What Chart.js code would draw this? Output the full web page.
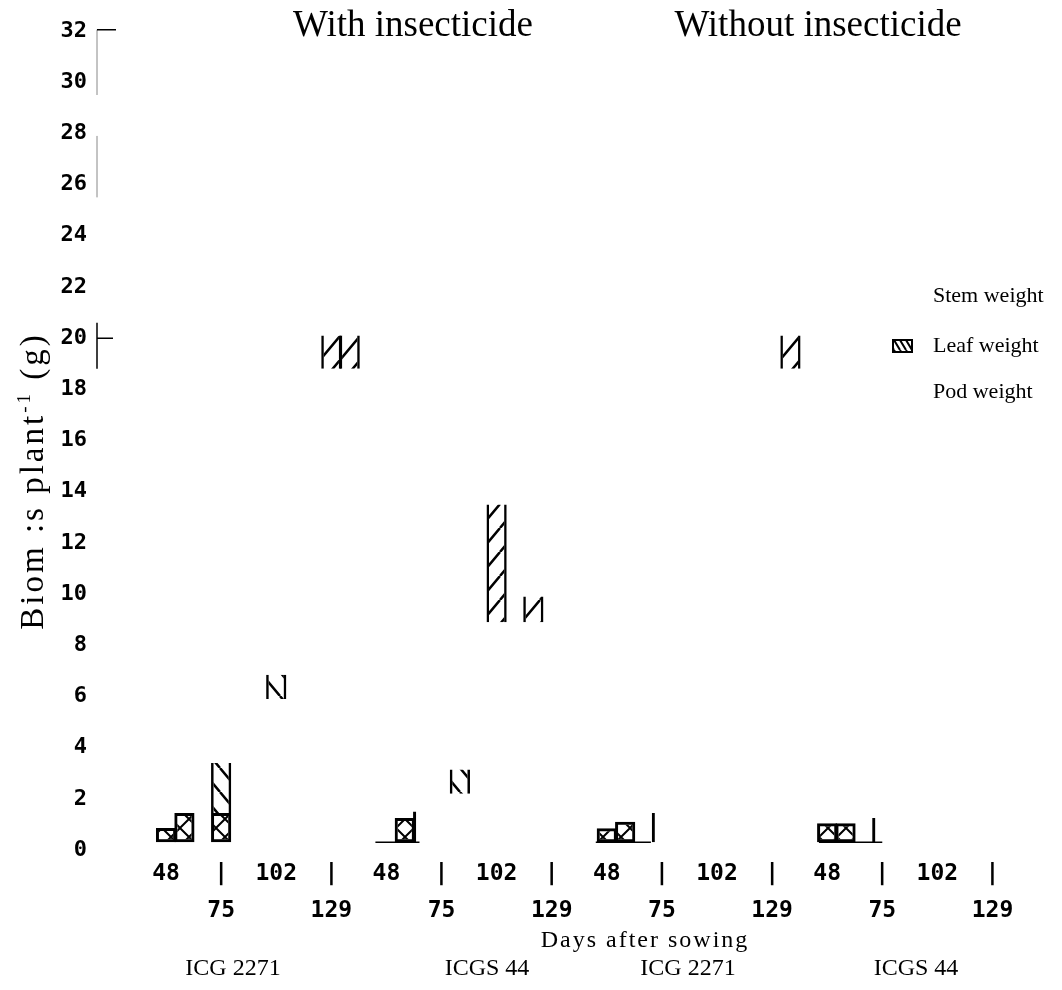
<!DOCTYPE html>
<html>
<head>
<meta charset="utf-8">
<script src="https://cdn.jsdelivr.net/npm/chart.js@4.4.1/dist/chart.umd.min.js"></script>
<style>
  html, body { margin: 0; padding: 0; background: #fff; }
  #chart { display: block; }
</style>
</head>
<body>
<canvas id="chart" width="1062" height="990"></canvas>
<script>
// Categories
const treatments = ['With insecticide', 'Without insecticide'];
const groups = ['ICG 2271', 'ICGS 44', 'ICG 2271', 'ICGS 44'];
const days = ['48', '75', '102', '129'];
const seriesNames = ['Stem weight', 'Leaf weight', 'Pod weight'];
const yTicks = [0, 2, 4, 6, 8, 10, 12, 14, 16, 18, 20, 22, 24, 26, 28, 30, 32];

// Floating bar values [from, to] in g per plant, one entry per group x day (16)
// bars are drawn three per day: left, middle and right slot
const stemLeft   = [null, null, null, null, null, null, null, [8.9, 9.9], null, null, null, null, null, null, null, null];
const stemMid    = [null, null, null, [18.8, 20.1], null, null, [8.9, 13.5], null, null, null, null, null, null, null, null, null];
const stemRight  = [null, null, null, [18.8, 20.1], null, null, null, null, null, null, null, [18.8, 20.1], null, null, null, null];
const leafMid    = [null, [1.45, 3.4], [5.9, 6.85], null, null, null, null, null, null, null, null, null, null, null, null, null];
const leafRight  = [null, null, null, null, null, [2.2, 3.15], null, null, null, null, null, null, null, null, null, null];
const podMid     = [[0.3, 0.86], [0.3, 1.45], null, null, null, null, null, null, [0.3, 0.85], null, null, null, [0.3, 1.05], null, null, null];
const podRight   = [[0.3, 1.45], null, null, null, [0.3, 1.25], null, null, null, [0.3, 1.1], null, null, null, [0.3, 1.05], null, null, null];
const podEdgeLeft = [null, null, null, null, null, [0.3, 1.5], null, null, null, null, null, null, null, null, null, null];
const podEdgeMid  = [null, null, null, null, null, null, null, null, null, [0.3, 1.45], null, null, null, [0.3, 1.25], null, null];

// tick labels: 48 and 102 on the upper row, 75 and 129 below a bar
const labels = [];
groups.forEach(() => {
  days.forEach((d, i) => labels.push(i % 2 === 0 ? d : ['|', d]));
});

const canvas = document.getElementById('chart');
const ctx = canvas.getContext('2d');

// hatch pattern helper
function hatch(dir, w, h, lw) {
  const c = document.createElement('canvas');
  c.width = w;
  c.height = h;
  const g = c.getContext('2d');
  g.strokeStyle = '#000';
  g.lineWidth = lw;
  g.beginPath();
  [-w, 0, w].forEach(off => {
    if (dir === '/' || dir === 'x') { g.moveTo(off, h); g.lineTo(off + w, 0); }
    if (dir === '\\' || dir === 'x') { g.moveTo(off, 0); g.lineTo(off + w, h); }
  });
  g.stroke();
  return ctx.createPattern(c, 'repeat');
}

const stemFill = hatch('/', 20, 24, 2.5);
const leafFill = hatch('\\', 20, 24, 2.5);
const podFill = hatch('x', 18, 18, 2);
const legendFill = hatch('\\', 6, 10, 2);

const sides = { left: 2.5, right: 2.5, top: 0, bottom: 0 };
const box = 3;
const edge = { left: 3, right: 0, top: 0, bottom: 0 };

function bars(label, data, stack, bg, bw) {
  return {
    label: label,
    data: data,
    stack: stack,
    backgroundColor: bg,
    borderColor: '#000',
    borderWidth: bw,
    borderSkipped: false,
    categoryPercentage: 1,
    barPercentage: 1.1
  };
}

// first three datasets fix the slot order left / mid / right
const datasets = [
  bars(seriesNames[0], stemLeft, 'left', stemFill, sides),
  bars(seriesNames[2], podMid, 'mid', podFill, box),
  bars(seriesNames[2], podRight, 'right', podFill, box),
  bars(seriesNames[0], stemMid, 'mid', stemFill, sides),
  bars(seriesNames[0], stemRight, 'right', stemFill, sides),
  bars(seriesNames[1], leafMid, 'mid', leafFill, sides),
  bars(seriesNames[1], leafRight, 'right', leafFill, sides),
  bars(seriesNames[2], podEdgeLeft, 'left', 'rgba(0,0,0,0)', edge),
  bars(seriesNames[2], podEdgeMid, 'mid', 'rgba(0,0,0,0)', edge)
];

const serif = '"Liberation Serif", "Times New Roman", serif';

// titles, legend, axis titles and the broken axis pieces
const decor = {
  id: 'decor',
  afterDraw(chart) {
    const c = chart.ctx;
    const x = chart.scales.x;
    const y = chart.scales.y;
    const ax = chart.chartArea.left - 41.5;
    c.save();
    c.fillStyle = '#000';
    c.strokeStyle = '#000';

    // axis fragments
    c.lineWidth = 1;
    c.strokeStyle = '#888';
    c.beginPath();
    c.moveTo(ax, y.getPixelForValue(32.05));
    c.lineTo(ax, y.getPixelForValue(29.5));
    c.moveTo(ax, y.getPixelForValue(27.9));
    c.lineTo(ax, y.getPixelForValue(25.5));
    c.stroke();
    c.strokeStyle = '#000';
    c.lineWidth = 1.5;
    c.beginPath();
    c.moveTo(ax, y.getPixelForValue(32.05));
    c.lineTo(ax + 19, y.getPixelForValue(32.05));
    c.moveTo(ax, y.getPixelForValue(20.6));
    c.lineTo(ax, y.getPixelForValue(18.8));
    c.moveTo(ax, y.getPixelForValue(20));
    c.lineTo(ax + 16, y.getPixelForValue(20));
    // pieces of the base line that survived
    const base = y.getPixelForValue(0.3);
    [[3.8, 4.6], [7.8, 8.8], [11.85, 13.0]].forEach(seg => {
      c.moveTo(x.getPixelForValue(seg[0]), base);
      c.lineTo(x.getPixelForValue(seg[1]), base);
    });
    c.stroke();

    // panel titles
    c.textAlign = 'center';
    c.textBaseline = 'alphabetic';
    c.font = '37px ' + serif;
    c.fillText(treatments[0], 413, 36);
    c.fillText(treatments[1], 818, 36);

    // legend
    c.textAlign = 'left';
    c.font = '22px ' + serif;
    c.fillText(seriesNames[0], 933, 302);
    c.fillText(seriesNames[1], 933, 352);
    c.fillText(seriesNames[2], 933, 398);
    c.fillStyle = legendFill;
    c.fillRect(893, 340, 19, 12);
    c.lineWidth = 2;
    c.strokeRect(893, 340, 19, 12);
    c.fillStyle = '#000';

    // genotype labels
    c.textAlign = 'center';
    c.font = '24px ' + serif;
    [233, 487, 688, 916].forEach((gx, i) => c.fillText(groups[i], gx, 975));

    // x axis title
    c.font = '24px ' + serif;
    c.letterSpacing = '2px';
    c.fillText('Days after sowing', 645, 947);

    // y axis title with superscript
    c.translate(43, 481);
    c.rotate(-Math.PI / 2);
    c.textAlign = 'left';
    c.letterSpacing = '3px';
    const main = 'Biom :s plant';
    const sup = '-1';
    const tail = ' (g)';
    c.font = '33px ' + serif;
    const w1 = c.measureText(main).width;
    const w3 = c.measureText(tail).width;
    c.font = '19px ' + serif;
    const w2 = c.measureText(sup).width;
    let sx = -(w1 + w2 + w3) / 2;
    c.font = '33px ' + serif;
    c.fillText(main, sx, 0);
    sx += w1;
    c.font = '19px ' + serif;
    c.fillText(sup, sx, -13);
    sx += w2;
    c.font = '33px ' + serif;
    c.fillText(tail, sx, 0);
    c.restore();
  }
};

new Chart(ctx, {
  type: 'bar',
  data: { labels: labels, datasets: datasets },
  options: {
    responsive: false,
    animation: false,
    layout: { padding: { left: 56, right: 42, top: 31, bottom: 56 } },
    plugins: {
      legend: { display: false },
      tooltip: { enabled: false }
    },
    scales: {
      x: {
        grid: { display: false, drawTicks: false },
        border: { display: false },
        ticks: {
          color: '#000',
          autoSkip: false,
          maxRotation: 0,
          padding: 6,
          font: { family: '"DejaVu Sans Mono", monospace', weight: 'bold', size: 23, lineHeight: 1.6 }
        },
        afterFit: function(scale) { scale.height = 84; }
      },
      y: {
        stacked: false,
        min: 0,
        max: 32,
        grid: { display: false, drawTicks: false },
        border: { display: false },
        afterBuildTicks: function(scale) { scale.ticks = yTicks.map(v => ({ value: v })); },
        ticks: {
          color: '#000',
          autoSkip: false,
          padding: 51.5,
          font: { family: '"DejaVu Sans Mono", monospace', weight: 'bold', size: 22 }
        },
        afterFit: function(scale) {
          scale.width = 82.5;
          scale.paddingTop = 0;
          scale.paddingBottom = 0;
        }
      }
    }
  },
  plugins: [decor]
});
</script>
</body>
</html>
